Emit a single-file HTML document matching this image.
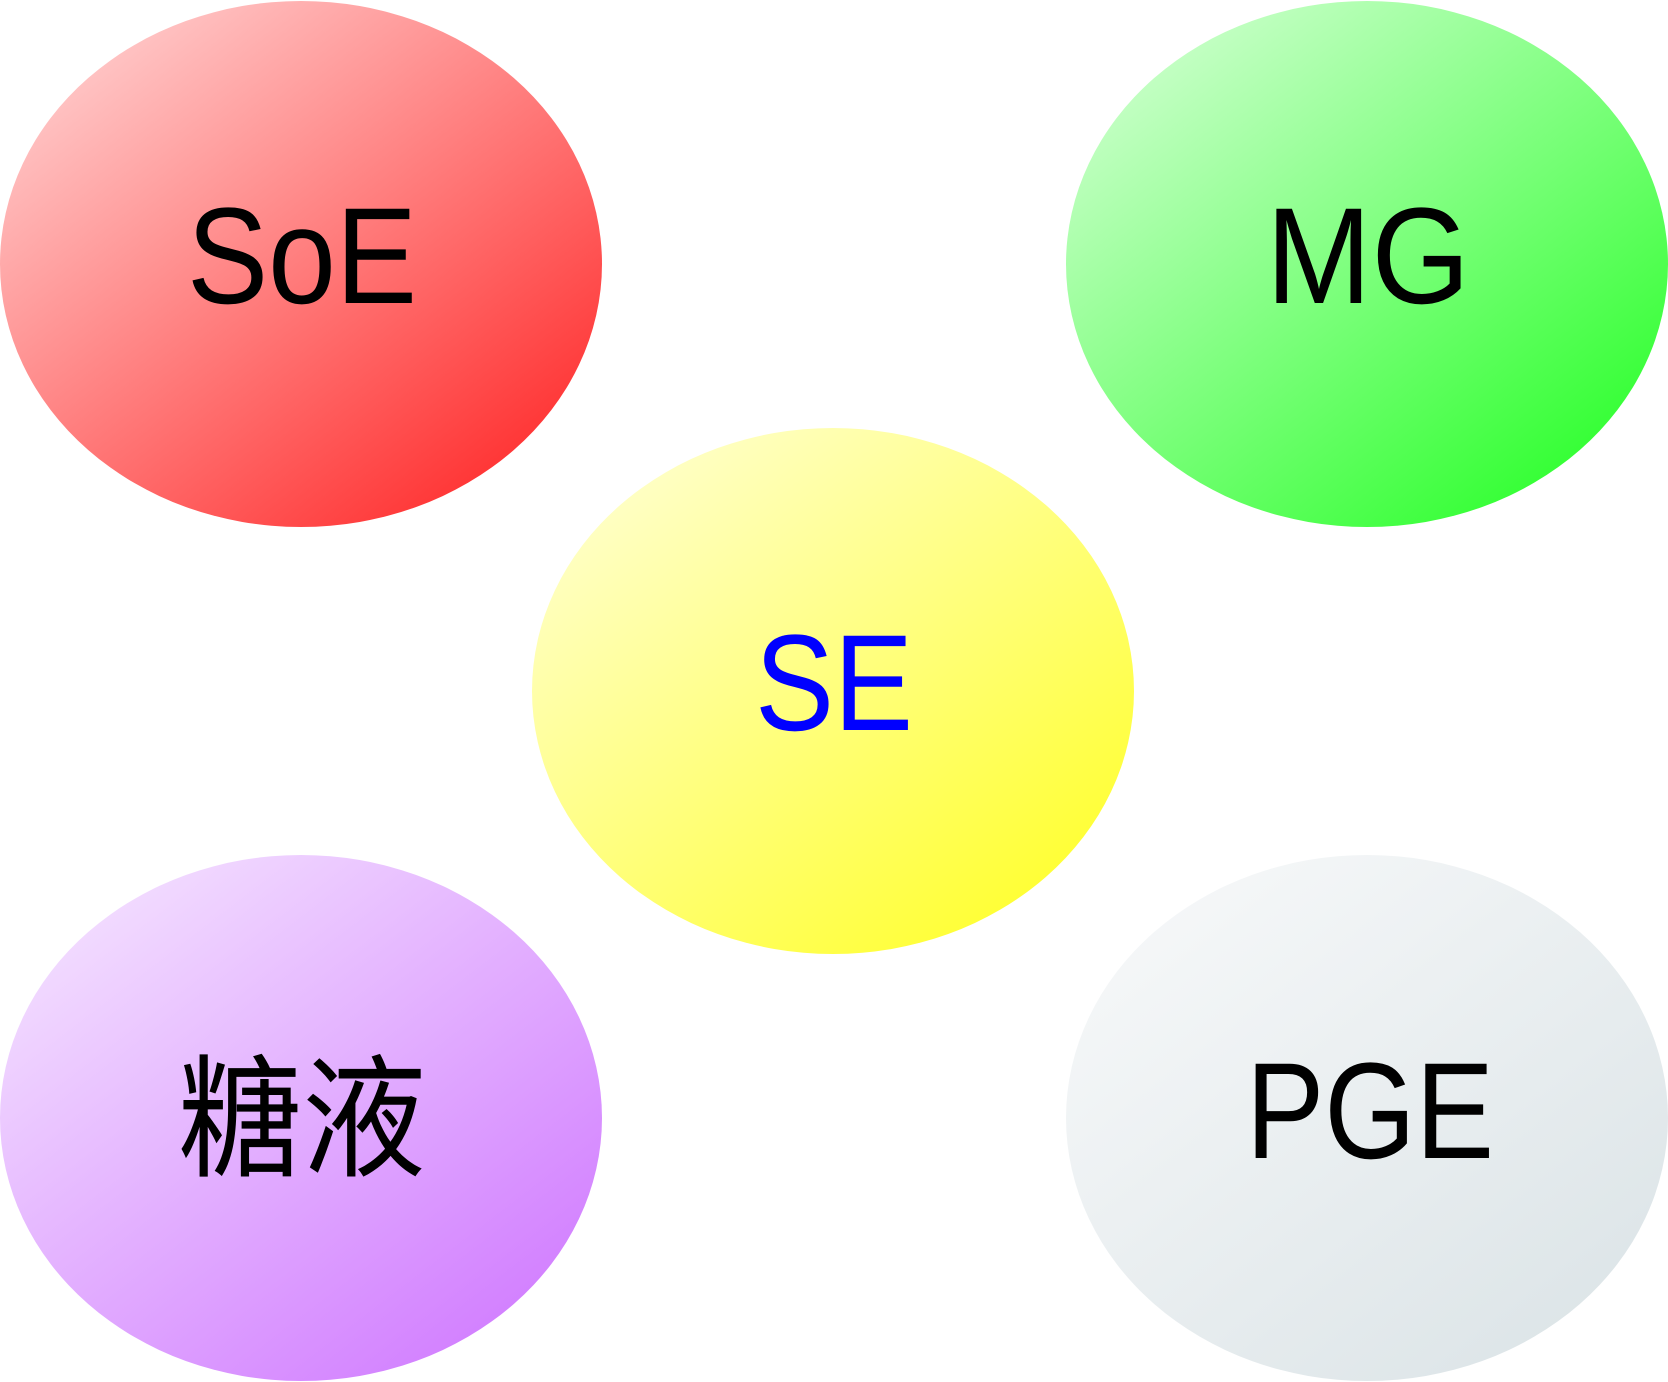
<!DOCTYPE html>
<html><head><meta charset="utf-8"><style>html,body{margin:0;padding:0;background:#fff}svg{display:block}</style></head>
<body>
<svg width="1668" height="1382" viewBox="0 0 1668 1382" xmlns="http://www.w3.org/2000/svg">
<defs>
<linearGradient id="r" x1="0.15" y1="0.1" x2="0.85" y2="0.9"><stop offset="0" stop-color="#ffc6c6"/><stop offset="1" stop-color="#ff3333"/></linearGradient>
<linearGradient id="g" x1="0.15" y1="0.1" x2="0.85" y2="0.9"><stop offset="0" stop-color="#c6ffc6"/><stop offset="1" stop-color="#33ff33"/></linearGradient>
<linearGradient id="y" x1="0.15" y1="0.1" x2="0.85" y2="0.9"><stop offset="0" stop-color="#ffffc6"/><stop offset="1" stop-color="#ffff33"/></linearGradient>
<linearGradient id="p" x1="0.15" y1="0.1" x2="0.85" y2="0.9"><stop offset="0" stop-color="#f2dcff"/><stop offset="1" stop-color="#d27fff"/></linearGradient>
<linearGradient id="w" x1="0.15" y1="0.1" x2="0.85" y2="0.9"><stop offset="0" stop-color="#f5f7f8"/><stop offset="1" stop-color="#dde5e8"/></linearGradient>
</defs>
<g font-family="'Liberation Sans','Noto Sans CJK SC',sans-serif" font-size="137" text-anchor="middle">
<ellipse cx="301" cy="264" rx="301" ry="263" fill="url(#r)"/>
<ellipse cx="1367" cy="264" rx="301" ry="263" fill="url(#g)"/>
<ellipse cx="833" cy="691" rx="301" ry="263" fill="url(#y)"/>
<ellipse cx="301" cy="1118" rx="301" ry="263" fill="url(#p)"/>
<ellipse cx="1367" cy="1118" rx="301" ry="263" fill="url(#w)"/>
<text x="302" y="303" fill="#000" textLength="230" lengthAdjust="spacingAndGlyphs">SoE</text>
<text x="1368" y="303" fill="#000" textLength="204" lengthAdjust="spacingAndGlyphs">MG</text>
<text x="834" y="730" fill="#0000ff" textLength="158" lengthAdjust="spacingAndGlyphs">SE</text>
<text x="302" y="1166" fill="#000" font-size="133" textLength="248" lengthAdjust="spacingAndGlyphs">糖液</text>
<text x="1370" y="1158" fill="#000" textLength="248" lengthAdjust="spacingAndGlyphs">PGE</text>
</g>
</svg>
</body></html>
